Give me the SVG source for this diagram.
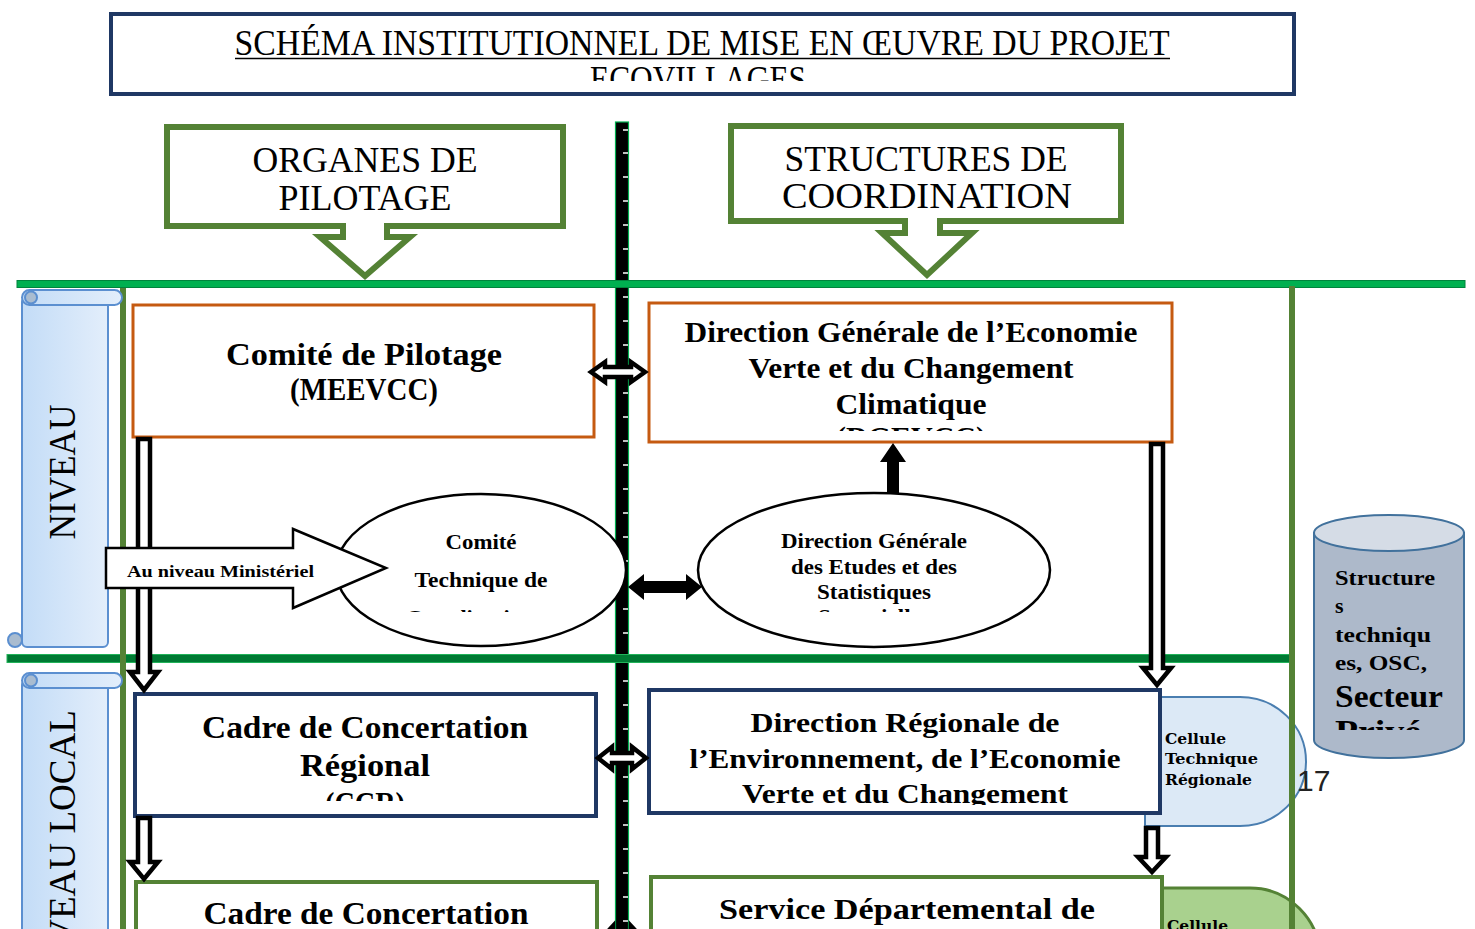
<svg xmlns="http://www.w3.org/2000/svg" width="1475" height="929" viewBox="0 0 1475 929">
<defs>
<style>
.serif{font-family:"Liberation Serif","DejaVu Serif",serif;}
.b{font-weight:bold;}
.hollow{fill:#fff;stroke:#000;stroke-width:4.5;stroke-linejoin:miter;}
.solid{fill:#000;stroke:none;}
.scroll{fill:url(#sg);stroke:#5b8fd0;stroke-width:2;}
.curl{fill:#a9bcd0;stroke:#5b8fd0;stroke-width:2;}
.orange{fill:#fff;stroke:#c55a11;stroke-width:3;}
.navy{fill:#fff;stroke:#1f3864;stroke-width:4;}
.gbox{fill:#fff;stroke:#548235;stroke-width:4;}
.ell{fill:#fff;stroke:#000;stroke-width:2.5;}
</style>
<linearGradient id="sg" x1="0" y1="0" x2="1" y2="0">
<stop offset="0" stop-color="#c3dcf7"/>
<stop offset="1" stop-color="#e3eefb"/>
</linearGradient>
<clipPath id="cTitle"><rect x="112" y="15" width="1180" height="66"/></clipPath>
<clipPath id="cDG"><rect x="650" y="304" width="520" height="127"/></clipPath>
<clipPath id="cE1"><rect x="336" y="494" width="290" height="118"/></clipPath>
<clipPath id="cE2"><rect x="698" y="494" width="352" height="118"/></clipPath>
<clipPath id="cCCR"><rect x="137" y="696" width="457" height="105"/></clipPath>
<clipPath id="cDR"><rect x="651" y="692" width="507" height="113"/></clipPath>
<clipPath id="cCyl"><rect x="1314" y="515" width="150" height="215"/></clipPath>
</defs>

<!-- title -->
<g id="title">
<rect x="111" y="14" width="1183" height="80" fill="#fff" stroke="#1f3864" stroke-width="4"/>
<g clip-path="url(#cTitle)" class="serif">
<text x="702" y="55" font-size="36" text-anchor="middle" textLength="935" lengthAdjust="spacingAndGlyphs">SCHÉMA INSTITUTIONNEL DE MISE EN ŒUVRE DU PROJET</text>
<line x1="235" y1="58.5" x2="1170" y2="58.5" stroke="#000" stroke-width="1.6"/>
<text x="698" y="91" font-size="36" text-anchor="middle" textLength="216" lengthAdjust="spacingAndGlyphs">ECOVILLAGES</text>
</g>
</g>

<!-- central vertical bar -->
<g id="axis">
<rect x="615.5" y="122" width="13" height="820" fill="#000" stroke="#00b050" stroke-width="1.2"/>
<path d="M623,130 H628 M623,153 H628 M623,177 H628 M623,201 H628 M623,225 H628 M623,249 H628 M623,273 H628 M623,297 H628 M623,321 H628 M623,345 H628 M623,393 H628 M623,417 H628 M623,441 H628 M623,465 H628 M623,489 H628 M623,513 H628 M623,537 H628 M623,561 H628 M623,609 H628 M623,633 H628 M623,681 H628 M623,705 H628 M623,729 H628 M623,753 H628 M623,777 H628 M623,801 H628 M623,825 H628 M623,849 H628 M623,873 H628 M623,897 H628 M623,921 H628" stroke="#fff" stroke-width="1.5"/>
</g>

<!-- header callouts -->
<g id="organes">
<path d="M167,127 H563 V226 H387 V237 H410 L365,276 L320,237 H343 V226 H167 Z" fill="#fff" stroke="#548235" stroke-width="6"/>
<text class="serif" x="365" y="172" font-size="36" text-anchor="middle" textLength="225" lengthAdjust="spacingAndGlyphs">ORGANES DE</text>
<text class="serif" x="365" y="210" font-size="36" text-anchor="middle" textLength="173" lengthAdjust="spacingAndGlyphs">PILOTAGE</text>
</g>
<g id="structures">
<path d="M731,126 H1121 V221 H940 V233 H972 L927,275 L882,233 H905 V221 H731 Z" fill="#fff" stroke="#548235" stroke-width="6"/>
<text class="serif" x="926" y="171" font-size="36" text-anchor="middle" textLength="283" lengthAdjust="spacingAndGlyphs">STRUCTURES DE</text>
<text class="serif" x="927" y="208" font-size="36" text-anchor="middle" textLength="290" lengthAdjust="spacingAndGlyphs">COORDINATION</text>
</g>

<!-- cellules behind boxes -->
<g id="cellule-regionale">
<path d="M1145,697 H1240 A66,64.5 0 0 1 1240,826 H1145 Z" fill="#dce9f6" stroke="#4a7eb0" stroke-width="2"/>
<text font-family="DejaVu Serif,serif" font-weight="bold" font-size="15" x="1165" y="744" textLength="61" lengthAdjust="spacingAndGlyphs">Cellule</text>
<text font-family="DejaVu Serif,serif" font-weight="bold" font-size="15" x="1165" y="764" textLength="93" lengthAdjust="spacingAndGlyphs">Technique</text>
<text font-family="DejaVu Serif,serif" font-weight="bold" font-size="15" x="1165" y="785" textLength="87" lengthAdjust="spacingAndGlyphs">Régionale</text>
</g>
<g id="cellule-departementale">
<path d="M1160,888 H1250 A70,70 0 0 1 1320,958 V1000 H1160 Z" fill="#a9d18e" stroke="#548235" stroke-width="3"/>
<text font-family="DejaVu Serif,serif" font-weight="bold" font-size="15" x="1167" y="931" textLength="61" lengthAdjust="spacingAndGlyphs">Cellule</text>
</g>
<text id="page-number" x="1297" y="791" font-family="Liberation Sans,Arial,sans-serif" font-size="30" fill="#222">17</text>

<!-- green separators -->
<g id="separators">
<rect x="17" y="280.5" width="1448" height="7" fill="#00b050" stroke="#00843d" stroke-width="1"/>
<rect x="7" y="654.5" width="1283" height="8" fill="#007a33" stroke="#22b35a" stroke-width="1"/>
<rect x="120" y="288" width="6" height="650" fill="#548235"/>
<rect x="1289" y="286" width="6" height="650" fill="#548235"/>
</g>

<!-- scrolls -->
<g id="niveau-central">
<rect class="scroll" x="22" y="297" width="86" height="350" rx="5"/>
<rect class="scroll" x="22" y="290" width="100" height="15" rx="7.5"/>
<circle class="curl" cx="31" cy="297.5" r="6"/>
<circle class="curl" cx="15" cy="640" r="7"/>
<text class="serif" font-size="38" text-anchor="middle" textLength="135" lengthAdjust="spacingAndGlyphs" transform="translate(75,472) rotate(-90)">NIVEAU</text>
</g>
<g id="niveau-local">
<rect class="scroll" x="22" y="680" width="86" height="270" rx="5"/>
<rect class="scroll" x="22" y="673" width="100" height="15" rx="7.5"/>
<circle class="curl" cx="31" cy="680.5" r="6"/>
<text class="serif" font-size="38" text-anchor="end" textLength="275" lengthAdjust="spacingAndGlyphs" transform="translate(75,710) rotate(-90)">NIVEAU LOCAL</text>
</g>

<!-- nodes -->
<g id="comite-pilotage">
<rect class="orange" x="133" y="305" width="461" height="132"/>
<text class="serif b" x="364" y="365" font-size="31" text-anchor="middle" textLength="276" lengthAdjust="spacingAndGlyphs">Comité de Pilotage</text>
<text class="serif b" x="364" y="400" font-size="31" text-anchor="middle" textLength="148" lengthAdjust="spacingAndGlyphs">(MEEVCC)</text>
</g>
<g id="dgevcc">
<rect class="orange" x="649" y="303" width="523" height="139"/>
<g clip-path="url(#cDG)">
<text class="serif b" x="911" y="342" font-size="29" text-anchor="middle" textLength="453" lengthAdjust="spacingAndGlyphs">Direction Générale de l’Economie</text>
<text class="serif b" x="911" y="378" font-size="29" text-anchor="middle" textLength="325" lengthAdjust="spacingAndGlyphs">Verte et du Changement</text>
<text class="serif b" x="911" y="414" font-size="29" text-anchor="middle" textLength="151" lengthAdjust="spacingAndGlyphs">Climatique</text>
<text class="serif b" x="911" y="447" font-size="29" text-anchor="middle" textLength="150" lengthAdjust="spacingAndGlyphs">(DGEVCC)</text>
</g>
</g>
<g id="comite-technique">
<ellipse class="ell" cx="481" cy="570" rx="145" ry="76"/>
<g clip-path="url(#cE1)">
<text class="serif b" x="481" y="549" font-size="20" text-anchor="middle" textLength="71" lengthAdjust="spacingAndGlyphs">Comité</text>
<text class="serif b" x="481" y="587" font-size="20" text-anchor="middle" textLength="133" lengthAdjust="spacingAndGlyphs">Technique de</text>
<text class="serif b" x="481" y="625" font-size="20" text-anchor="middle" textLength="150" lengthAdjust="spacingAndGlyphs">Coordination et</text>
</g>
</g>
<g id="dgess">
<ellipse class="ell" cx="874" cy="570" rx="176" ry="77"/>
<g clip-path="url(#cE2)">
<text class="serif b" x="874" y="548" font-size="20" text-anchor="middle" textLength="186" lengthAdjust="spacingAndGlyphs">Direction Générale</text>
<text class="serif b" x="874" y="574" font-size="20" text-anchor="middle" textLength="166" lengthAdjust="spacingAndGlyphs">des Etudes et des</text>
<text class="serif b" x="874" y="599" font-size="20" text-anchor="middle" textLength="114" lengthAdjust="spacingAndGlyphs">Statistiques</text>
<text class="serif b" x="874" y="624" font-size="20" text-anchor="middle" textLength="112" lengthAdjust="spacingAndGlyphs">Sectorielles</text>
</g>
</g>
<g id="ccr">
<rect class="navy" x="135" y="694" width="461" height="122"/>
<g clip-path="url(#cCCR)">
<text class="serif b" x="365" y="738" font-size="31" text-anchor="middle" textLength="326" lengthAdjust="spacingAndGlyphs">Cadre de Concertation</text>
<text class="serif b" x="365" y="776" font-size="31" text-anchor="middle" textLength="130" lengthAdjust="spacingAndGlyphs">Régional</text>
<text class="serif b" x="365" y="814" font-size="31" text-anchor="middle" textLength="80" lengthAdjust="spacingAndGlyphs">(CCR)</text>
</g>
</g>
<g id="dreevcc">
<rect class="navy" x="649" y="690" width="511" height="123"/>
<g clip-path="url(#cDR)">
<text class="serif b" x="905" y="732" font-size="28" text-anchor="middle" textLength="309" lengthAdjust="spacingAndGlyphs">Direction Régionale de</text>
<text class="serif b" x="905" y="768" font-size="28" text-anchor="middle" textLength="431" lengthAdjust="spacingAndGlyphs">l’Environnement, de l’Economie</text>
<text class="serif b" x="905" y="803" font-size="28" text-anchor="middle" textLength="326" lengthAdjust="spacingAndGlyphs">Verte et du Changement</text>
</g>
</g>
<g id="ccp">
<rect class="gbox" x="136" y="882" width="461" height="90"/>
<text class="serif b" x="366" y="924" font-size="31" text-anchor="middle" textLength="325" lengthAdjust="spacingAndGlyphs">Cadre de Concertation</text>
</g>
<g id="sdeevcc">
<rect class="gbox" x="651" y="877" width="511" height="90"/>
<text class="serif b" x="907" y="919" font-size="30" text-anchor="middle" textLength="376" lengthAdjust="spacingAndGlyphs">Service Départemental de</text>
</g>
<g id="structures-techniques">
<path d="M1314,533 V740 A75,18 0 0 0 1464,740 V533 Z" fill="#adb9ca" stroke="#41719c" stroke-width="2"/>
<ellipse cx="1389" cy="533" rx="75" ry="18" fill="#d5dce6" stroke="#41719c" stroke-width="2"/>
<g clip-path="url(#cCyl)">
<text class="serif b" x="1335" y="585" font-size="22" textLength="100" lengthAdjust="spacingAndGlyphs">Structure</text>
<text class="serif b" x="1335" y="613" font-size="22">s</text>
<text class="serif b" x="1335" y="642" font-size="22" textLength="96" lengthAdjust="spacingAndGlyphs">techniqu</text>
<text class="serif b" x="1335" y="670" font-size="22" textLength="92" lengthAdjust="spacingAndGlyphs">es, OSC,</text>
<text class="serif b" x="1335" y="707" font-size="31" textLength="108" lengthAdjust="spacingAndGlyphs">Secteur</text>
<text class="serif b" x="1335" y="742" font-size="31" textLength="86" lengthAdjust="spacingAndGlyphs">Privé</text>
</g>
</g>

<!-- connectors -->
<g id="connectors">
<path class="hollow" d="M138,439 H150 V672 H158 L144,690 L130,672 H138 Z"/>
<path class="hollow" d="M138,818 H150 V862 H158 L144,879 L130,862 H138 Z"/>
<path class="hollow" d="M1151,444 H1163 V668 H1171 L1157,685 L1143,668 H1151 Z"/>
<path class="hollow" d="M1146,828 H1158 V857 H1166 L1152,872 L1138,857 H1146 Z"/>
<path class="hollow" d="M591,372 L605,362 V367 H631 V362 L645,372 L631,382 V377 H605 V382 Z"/>
<path class="hollow" d="M598,758 L612,747 V753 H632 V747 L646,758 L632,769 V763 H612 V769 Z"/>
<path class="hollow" d="M598,942 L613,926 V935 H631 V926 L646,942 L631,958 V949 H613 V958 Z"/>
<path class="solid" d="M628,587 L644,574 V581 H686 V574 L702,587 L686,600 V593 H644 V600 Z"/>
<path class="solid" d="M887,494 V462 H880 L893,443 L906,462 H899 V494 Z"/>
</g>

<g id="au-niveau-ministeriel">
<path d="M106,548 H293 V529 L386,568 L293,608 V588 H106 Z" fill="#fff" stroke="#000" stroke-width="2.5"/>
<text class="serif b" x="127" y="577" font-size="17" textLength="187" lengthAdjust="spacingAndGlyphs">Au niveau Ministériel</text>
</g>
</svg>
